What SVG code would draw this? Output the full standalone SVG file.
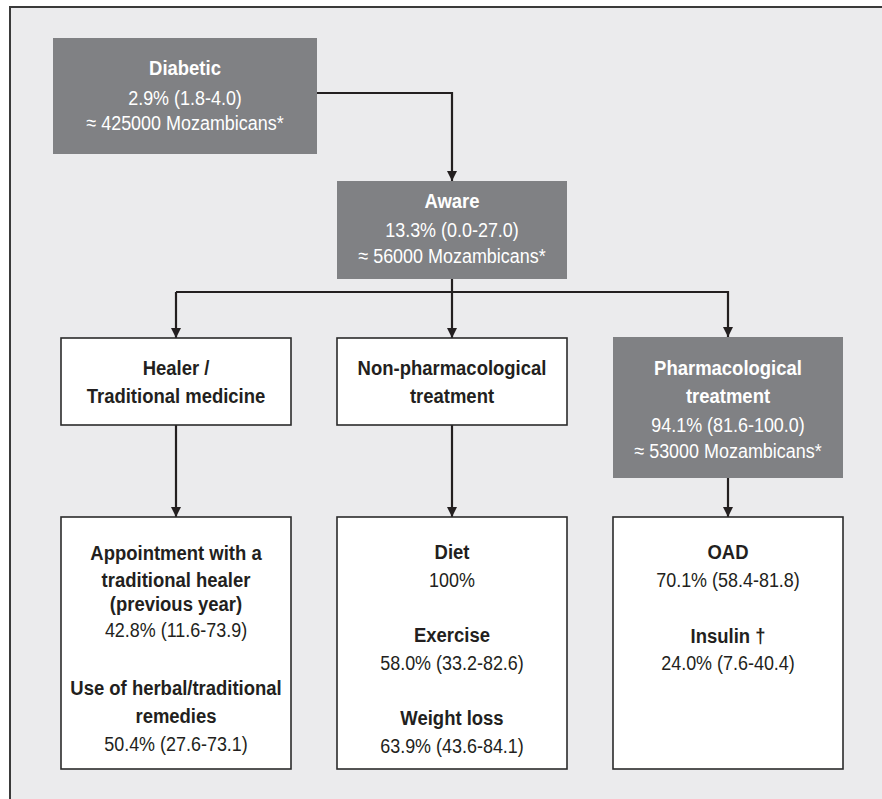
<svg xmlns="http://www.w3.org/2000/svg" width="882" height="799" viewBox="0 0 882 799">
<style>
  text { font-family: "Liberation Sans", Arial, sans-serif; text-anchor: middle; font-size: 21px; }
  .b { font-weight: bold; }
  .dark text { fill: #ffffff; }
  .light text { fill: #231f20; }
  .gbox { fill: #808184; }
  .wbox { fill: #ffffff; stroke: #2b2b2b; stroke-width: 1.6; }
  .conn { fill: none; stroke: #231f20; stroke-width: 2.2; }
</style>
<defs>
  <marker id="arr" viewBox="0 0 10 12" refX="10" refY="6" markerWidth="10" markerHeight="12" markerUnits="userSpaceOnUse" orient="auto">
    <path d="M0,1 L10,6 L0,11 Z" fill="#231f20"/>
  </marker>
</defs>
<rect x="0" y="0" width="882" height="799" fill="#ffffff"/>
<rect x="10" y="7" width="880" height="800" fill="#ebebed" stroke="#3a3a3a" stroke-width="2"/>

<g id="connectors">
  <path class="conn" d="M317,93 H452 V181" marker-end="url(#arr)"/>
  <path class="conn" d="M452,279 V338" marker-end="url(#arr)"/>
  <path class="conn" d="M176,292 H728 V337" marker-end="url(#arr)"/>
  <path class="conn" d="M176,292 V338" marker-end="url(#arr)"/>
  <path class="conn" d="M176,425 V517" marker-end="url(#arr)"/>
  <path class="conn" d="M452,425 V517" marker-end="url(#arr)"/>
  <path class="conn" d="M728,478 V517" marker-end="url(#arr)"/>
</g>

<g id="diabetic" class="dark">
  <rect class="gbox" x="53" y="38" width="264" height="116"/>
  <text class="b" transform="translate(185,75) scale(0.88,1)">Diabetic</text>
  <text transform="translate(185,105) scale(0.855,1)">2.9% (1.8-4.0)</text>
  <text transform="translate(185,130) scale(0.855,1)">≈ 425000 Mozambicans*</text>
</g>

<g id="aware" class="dark">
  <rect class="gbox" x="337" y="181" width="230" height="98"/>
  <text class="b" transform="translate(452,208) scale(0.88,1)">Aware</text>
  <text transform="translate(452,237) scale(0.855,1)">13.3% (0.0-27.0)</text>
  <text transform="translate(452,263) scale(0.855,1)">≈ 56000 Mozambicans*</text>
</g>

<g id="healer" class="light">
  <rect class="wbox" x="61" y="338" width="230" height="87"/>
  <text class="b" transform="translate(176,375) scale(0.88,1)">Healer /</text>
  <text class="b" transform="translate(176,403) scale(0.88,1)">Traditional medicine</text>
</g>

<g id="nonpharm" class="light">
  <rect class="wbox" x="337" y="338" width="230" height="87"/>
  <text class="b" transform="translate(452,375) scale(0.88,1)">Non-pharmacological</text>
  <text class="b" transform="translate(452,403) scale(0.88,1)">treatment</text>
</g>

<g id="pharm" class="dark">
  <rect class="gbox" x="613" y="337" width="230" height="141"/>
  <text class="b" transform="translate(728,375) scale(0.88,1)">Pharmacological</text>
  <text class="b" transform="translate(728,403) scale(0.88,1)">treatment</text>
  <text transform="translate(728,432) scale(0.855,1)">94.1% (81.6-100.0)</text>
  <text transform="translate(728,458) scale(0.855,1)">≈ 53000 Mozambicans*</text>
</g>

<g id="healer-detail" class="light">
  <rect class="wbox" x="61" y="517" width="230" height="252"/>
  <text class="b" transform="translate(176,560) scale(0.88,1)">Appointment with a</text>
  <text class="b" transform="translate(176,587) scale(0.88,1)">traditional healer</text>
  <text class="b" transform="translate(176,611) scale(0.88,1)">(previous year)</text>
  <text transform="translate(176,637) scale(0.855,1)">42.8% (11.6-73.9)</text>
  <text class="b" transform="translate(176,695) scale(0.88,1)">Use of herbal/traditional</text>
  <text class="b" transform="translate(176,723) scale(0.88,1)">remedies</text>
  <text transform="translate(176,751) scale(0.855,1)">50.4% (27.6-73.1)</text>
</g>

<g id="nonpharm-detail" class="light">
  <rect class="wbox" x="337" y="517" width="230" height="252"/>
  <text class="b" transform="translate(452,559) scale(0.88,1)">Diet</text>
  <text transform="translate(452,587) scale(0.855,1)">100%</text>
  <text class="b" transform="translate(452,642) scale(0.88,1)">Exercise</text>
  <text transform="translate(452,670) scale(0.855,1)">58.0% (33.2-82.6)</text>
  <text class="b" transform="translate(452,725) scale(0.88,1)">Weight loss</text>
  <text transform="translate(452,753) scale(0.855,1)">63.9% (43.6-84.1)</text>
</g>

<g id="pharm-detail" class="light">
  <rect class="wbox" x="613" y="517" width="230" height="252"/>
  <text class="b" transform="translate(728,559) scale(0.88,1)">OAD</text>
  <text transform="translate(728,587) scale(0.855,1)">70.1% (58.4-81.8)</text>
  <text class="b" transform="translate(728,643) scale(0.88,1)">Insulin †</text>
  <text transform="translate(728,670) scale(0.855,1)">24.0% (7.6-40.4)</text>
</g>
</svg>
